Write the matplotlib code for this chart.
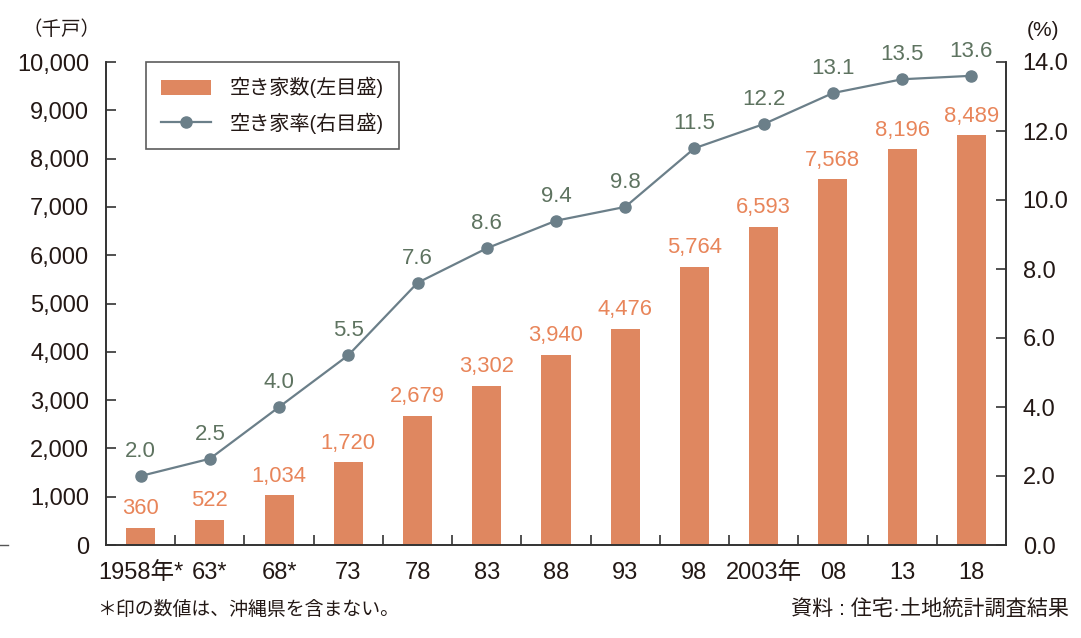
import matplotlib
matplotlib.use("Agg")
import matplotlib.pyplot as plt
from matplotlib.patches import Patch
from matplotlib.lines import Line2D

plt.rcParams['font.family'] = ['Liberation Sans', 'Noto Sans CJK JP', 'DejaVu Sans']

categories = ["1958年*", "63*", "68*", "73", "78", "83", "88", "93", "98", "2003年", "08", "13", "18"]
vacant_houses = [360, 522, 1034, 1720, 2679, 3302, 3940, 4476, 5764, 6593, 7568, 8196, 8489]
vacancy_rate = [2.0, 2.5, 4.0, 5.5, 7.6, 8.6, 9.4, 9.8, 11.5, 12.2, 13.1, 13.5, 13.6]
left_ticks = [0, 1000, 2000, 3000, 4000, 5000, 6000, 7000, 8000, 9000, 10000]
right_ticks = [0, 2, 4, 6, 8, 10, 12, 14]

bar_color = "#DF8760"
bar_label_color = "#E8855A"
line_color = "#6B7F89"
line_label_color = "#5E7360"
text_color = "#231815"

fig = plt.figure(figsize=(10.81, 6.38), dpi=100)
ax = fig.add_axes([106/1081, 1 - 545/638, 900/1081, (545-62)/638])
ax2 = ax.twinx()

x = list(range(len(categories)))
ax.bar(x, vacant_houses, width=0.42, color=bar_color, zorder=2)
for xi, v in zip(x, vacant_houses):
    ax.annotate(f"{v:,}", (xi, v), xytext=(0, 6), textcoords="offset points",
                ha="center", va="bottom", fontsize=15.8, color=bar_label_color)

ax2.plot(x, vacancy_rate, color=line_color, lw=1.6, marker="o", markersize=8, zorder=3)
for xi, v in zip(x, vacancy_rate):
    ax2.annotate(f"{v:.1f}", (xi, v), xytext=(0, 10), textcoords="offset points",
                 ha="center", va="bottom", fontsize=16, color=line_label_color)

ax.set_xlim(-0.5, len(categories) - 0.5)
ax.set_ylim(0, 10000)
ax2.set_ylim(0, 14)

ax.set_yticks(left_ticks)
ax.set_yticklabels([f"{t:,}" for t in left_ticks])
ax2.set_yticks(right_ticks)
ax2.set_yticklabels([f"{t:.1f}" for t in right_ticks])

ax.set_xticks(x)
ax.set_xticklabels(categories)
ax.set_xticks([i + 0.5 for i in x[:-1]], minor=True)
ax.tick_params(axis="x", which="major", length=0, pad=12, labelsize=17, colors=text_color)
ax.tick_params(axis="x", which="minor", direction="in", length=7, width=1.2, color="#333333")
ax.tick_params(axis="y", direction="in", length=7, width=1.2, labelsize=17, pad=12, colors=text_color)
ax2.tick_params(axis="y", direction="in", length=7, width=1.2, labelsize=17, pad=12, colors=text_color)
for a in (ax, ax2):
    a.tick_params(axis="y", color="#333333")
    a.spines["top"].set_visible(False)
    for s in ("left", "right", "bottom"):
        a.spines[s].set_linewidth(1.2)
        a.spines[s].set_color("#333333")

fig.text(62/1081, 1 - 30/638, "（千戸）", ha="center", va="center", fontsize=14, color=text_color)
fig.text(1043/1081, 1 - 30/638, "(%)", ha="center", va="center", fontsize=15, color=text_color)
fig.text(97/1081, 1 - 610/638, "＊印の数値は、沖縄県を含まない。", ha="left", va="center", fontsize=13.6, color=text_color)
fig.text(1069/1081, 1 - 610/638, "資料 : 住宅·土地統計調査結果", ha="right", va="center", fontsize=15.2, color=text_color)

# small stray dash at the left edge, as in the reference
fig.add_artist(Line2D([0, 8/1081], [1 - 545/638, 1 - 545/638], color="#555555", lw=1))

handles = [Patch(facecolor=bar_color, edgecolor="none"),
           Line2D([0], [0], color=line_color, lw=1.6, marker="o", markersize=8)]
leg = ax.legend(handles, ["空き家数(左目盛)", "空き家率(右目盛)"],
                loc="upper left", bbox_to_anchor=(40/900, 1.0), borderaxespad=0, fontsize=14.5,
                frameon=True, fancybox=False, edgecolor="#333333",
                handlelength=2.5, handleheight=0.8, handletextpad=0.9,
                borderpad=0.75, labelspacing=0.7)
leg.get_frame().set_linewidth(1.2)
for t in leg.get_texts():
    t.set_color(text_color)

fig.savefig("out.png", dpi=100)
